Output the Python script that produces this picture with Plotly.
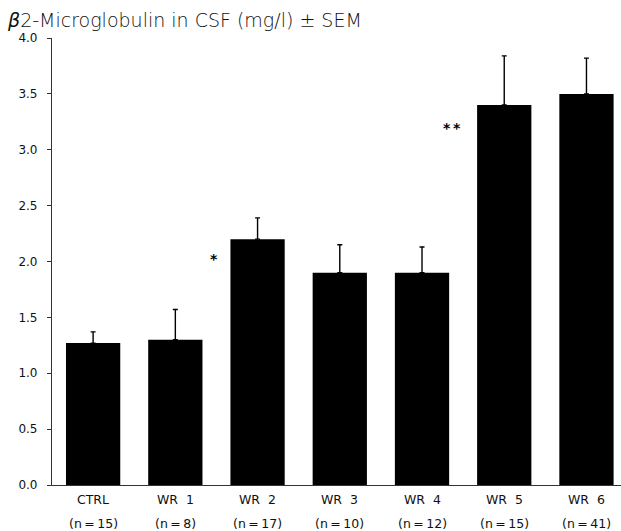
import plotly.graph_objects as go

# ---- data ----
categories = ["CTRL", "WR 1", "WR 2", "WR 3", "WR 4", "WR 5", "WR 6"]
n_labels = ["15", "8", "17", "10", "12", "15", "41"]
means = [1.27, 1.30, 2.20, 1.90, 1.90, 3.40, 3.50]
sem = [0.10, 0.27, 0.19, 0.25, 0.23, 0.44, 0.32]
significance = ["", "", "*", "", "", "**", ""]
y_ticks = [0.0, 0.5, 1.0, 1.5, 2.0, 2.5, 3.0, 3.5, 4.0]

FONT = "DejaVu Sans"
x_idx = list(range(len(categories)))

fig = go.Figure()
fig.add_trace(go.Bar(
    x=x_idx,
    y=means,
    width=0.66,
    marker=dict(color="black", line=dict(width=0)),
    error_y=dict(type="data", symmetric=False, array=sem,
                 arrayminus=[0] * len(sem),
                 color="black", thickness=1.4, width=2.5),
    showlegend=False,
))

annotations = []
# category labels (two rows)
for i, (c, n) in enumerate(zip(categories, n_labels)):
    annotations.append(dict(
        x=i, xref="x", y=0, yref="paper",
        text=c.replace(" ", "\u00a0\u00a0"), showarrow=False,
        yanchor="middle", yshift=-14,
        font=dict(family=FONT, size=12.5, color="#111"),
    ))
    annotations.append(dict(
        x=i, xref="x", y=0, yref="paper",
        text="(n\u2009=\u2009" + n + ")", showarrow=False,
        yanchor="middle", yshift=-38,
        font=dict(family=FONT, size=12.5, color="#111"),
    ))

# significance markers
for i, s in enumerate(significance):
    if s:
        single = len(s) == 1
        annotations.append(dict(
            x=i, xref="x", y=means[i], yref="y",
            text="<b>" + s.replace("*", "*\u2009").strip() + "</b>",
            showarrow=False, xanchor="center", yanchor="middle",
            xshift=-44 if single else -52, yshift=-20 if single else -23,
            font=dict(family=FONT, size=14, color="black"),
        ))

fig.update_layout(
    width=621, height=531,
    margin=dict(l=52, r=0, t=38, b=46, autoexpand=False),
    paper_bgcolor="white", plot_bgcolor="white",
    title=dict(
        text="<i>β</i>2-Microglobulin in CSF (mg/l) ± SEM",
        x=8 / 621, xref="container", xanchor="left",
        y=1 - 20 / 531, yref="container", yanchor="middle",
        font=dict(family=FONT, size=19, color="#111", weight=300),
    ),
    xaxis=dict(
        range=[-0.5, 6.42], showticklabels=False, ticks="",
        showline=True, linecolor="#333", linewidth=1.2,
        showgrid=False, zeroline=False, fixedrange=True,
    ),
    yaxis=dict(
        range=[0, 4.0], tickvals=y_ticks,
        ticktext=[f"{v:.1f}" for v in y_ticks],
        ticks="outside", ticklen=4, tickwidth=1, tickcolor="#333",
        ticklabelstandoff=7,
        showline=True, linecolor="#333", linewidth=1.2,
        showgrid=False, zeroline=False,
        tickfont=dict(family=FONT, size=12, color="#111"),
    ),
    annotations=annotations,
    bargap=0.34,
)

fig.write_html(
    "out.html",
    config={"displayModeBar": False},
    post_script="document.body.style.margin='0';document.body.style.padding='0';",
)
